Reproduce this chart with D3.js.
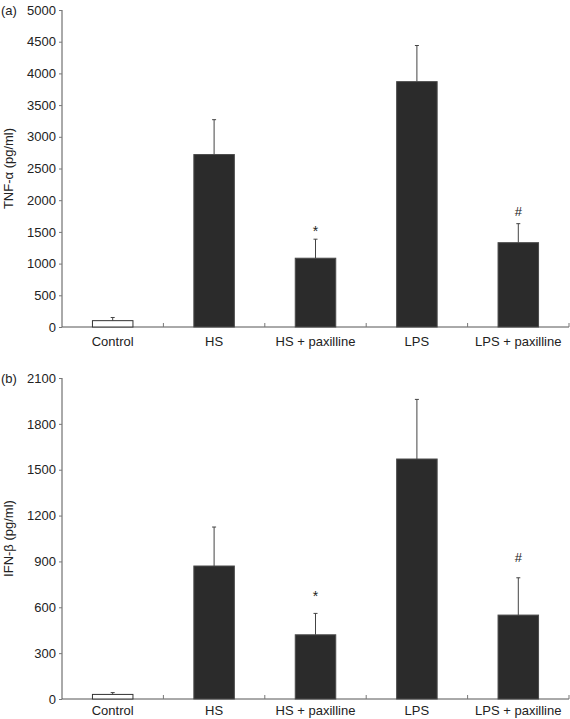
<!DOCTYPE html>
<html>
<head>
<meta charset="utf-8">
<script src="https://cdn.jsdelivr.net/npm/d3@7"></script>
<style>
  html, body { margin: 0; padding: 0; background: #fff; overflow: hidden; }
  svg { display: block; font-family: "Liberation Sans", Arial, Helvetica, sans-serif; }
</style>
</head>
<body>
<svg id="chart" width="570" height="719"></svg>
<script>
const categories = ["Control", "HS", "HS + paxilline", "LPS", "LPS + paxilline"];

// Panel (a) TNF-α
const tnfMean = [100, 2720, 1085, 3870, 1330];
const tnfErr = [50, 550, 300, 570, 300];
const tnfMarks = ["", "", "*", "", "#"];
const tnfMarkValue = [null, null, 1560, null, 1830];
const tnfTicks = [0, 500, 1000, 1500, 2000, 2500, 3000, 3500, 4000, 4500, 5000];

// Panel (b) IFN-β
const ifnMean = [30, 870, 420, 1570, 549];
const ifnErr = [12, 255, 140, 390, 244];
const ifnMarks = ["", "", "*", "", "#"];
const ifnMarkValue = [null, null, 693, null, 929];
const ifnTicks = [0, 300, 600, 900, 1200, 1500, 1800, 2100];

const svg = d3.select("#chart");
const x = d3.scaleBand().domain(categories).range([62, 569]).paddingInner(0).paddingOuter(0);
const barW = 40.5;
const ink = "#222";
const fontSize = 13;

function panel(cfg) {
  const y = d3.scaleLinear().domain([0, cfg.max]).range([cfg.y0, cfg.y1]);
  const g = svg.append("g");

  // y axis
  const yAxis = d3.axisLeft(y).tickValues(cfg.ticks).tickSize(3).tickPadding(3).tickFormat(d3.format("d"));
  const ya = g.append("g").attr("transform", "translate(62,0)").call(yAxis);
  ya.select(".domain").attr("stroke", "#555").attr("d", `M0,${cfg.y1}V${cfg.y0}`);
  ya.selectAll(".tick line").attr("stroke", "#777");
  ya.selectAll(".tick text").attr("fill", ink).style("font-size", fontSize + "px")
    .style("font-family", '"Liberation Sans", Arial, sans-serif');

  // x axis
  const xa = g.append("g").attr("transform", `translate(0,${cfg.y0})`);
  xa.append("line").attr("x1", 62).attr("x2", 569).attr("stroke", "#555");
  const bounds = categories.map(c => x(c) + x.bandwidth());
  xa.selectAll("line.tk").data(bounds).join("line").attr("class", "tk")
    .attr("x1", d => d).attr("x2", d => d).attr("y1", 0).attr("y2", -4).attr("stroke", "#777");
  xa.selectAll("text").data(categories).join("text")
    .attr("x", d => x(d) + x.bandwidth() / 2).attr("y", cfg.labelOffset)
    .attr("text-anchor", "middle").attr("fill", ink).style("font-size", fontSize + "px")
    .text(d => d);

  // error bars
  const eb = g.append("g");
  categories.forEach((c, i) => {
    const cx = x(c) + x.bandwidth() / 2;
    const top = y(cfg.mean[i] + cfg.err[i]);
    eb.append("line").attr("x1", cx).attr("x2", cx).attr("y1", y(cfg.mean[i])).attr("y2", top)
      .attr("stroke", "#444").attr("stroke-width", 1);
    eb.append("line").attr("x1", cx - 2).attr("x2", cx + 2).attr("y1", top).attr("y2", top)
      .attr("stroke", "#444").attr("stroke-width", 1);
  });

  // bars
  g.selectAll("rect.bar").data(categories).join("rect").attr("class", "bar")
    .attr("x", d => x(d) + x.bandwidth() / 2 - barW / 2)
    .attr("width", barW)
    .attr("y", (d, i) => y(cfg.mean[i]))
    .attr("height", (d, i) => cfg.y0 - y(cfg.mean[i]))
    .attr("fill", (d, i) => i === 0 ? "#fff" : "#2b2b2b")
    .attr("stroke", (d, i) => i === 0 ? "#333" : "#4a4a4a")
    .attr("stroke-width", 1);

  // significance marks
  categories.forEach((c, i) => {
    if (!cfg.marks[i]) return;
    const isStar = cfg.marks[i] === "*";
    g.append("text").attr("x", x(c) + x.bandwidth() / 2)
      .attr("y", y(cfg.markValue[i]) + (isStar ? 8 : 5))
      .attr("text-anchor", "middle").attr("fill", ink)
      .style("font-size", isStar ? "14px" : "13px").text(cfg.marks[i]);
  });

  // y axis title
  g.append("text").attr("transform", `translate(13,${(cfg.y0 + cfg.y1) / 2}) rotate(-90)`)
    .attr("text-anchor", "middle").attr("fill", ink).style("font-size", "13px").text(cfg.title);

  // panel label
  g.append("text").attr("x", 1).attr("y", cfg.y1 + 5).attr("fill", ink)
    .style("font-size", "13px").text(cfg.label);
}

panel({ y0: 327, y1: 10, max: 5000, ticks: tnfTicks, mean: tnfMean, err: tnfErr, labelOffset: 19,
  marks: tnfMarks, markValue: tnfMarkValue, title: "TNF-\u03b1 (pg/ml)", label: "(a)" });
panel({ y0: 699, y1: 378, max: 2100, ticks: ifnTicks, mean: ifnMean, err: ifnErr, labelOffset: 16,
  marks: ifnMarks, markValue: ifnMarkValue, title: "IFN-\u03b2 (pg/ml)", label: "(b)" });
</script>
</body>
</html>
